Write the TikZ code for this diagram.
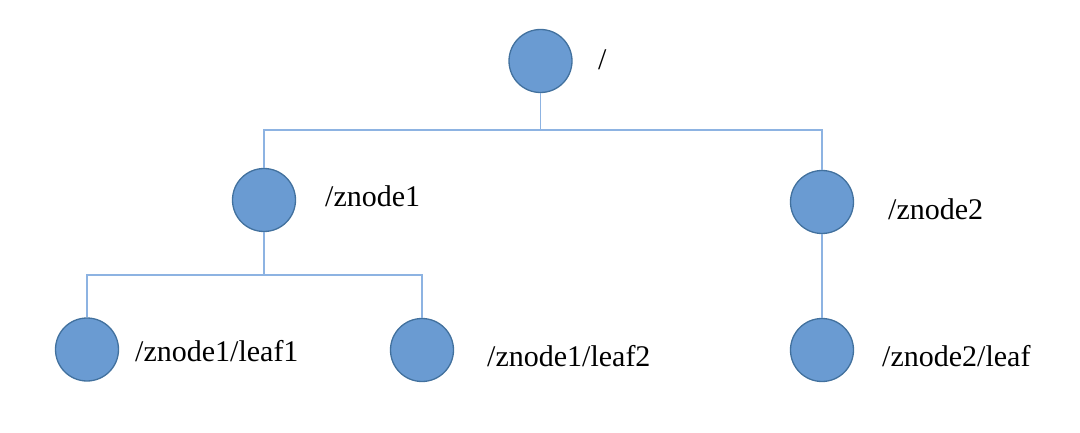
\documentclass[tikz,border=0pt]{standalone}
\usepackage{fontspec}
\setmainfont{Liberation Serif}
\definecolor{nodefill}{RGB}{106,155,210}
\definecolor{nodeborder}{RGB}{66,113,158}
\definecolor{linkcol}{RGB}{141,179,226}
\tikzset{
  znode/.style={circle, draw=nodeborder, fill=nodefill, line width=1.3pt, minimum size=63pt, inner sep=0pt},
  link/.style={draw=linkcol, line width=1.3pt},
  lbl/.style={anchor=base west, inner sep=0pt, font=\fontsize{30}{36}\selectfont}
}
\begin{document}
\begin{tikzpicture}[x=1pt,y=-1pt]
\useasboundingbox (0,0) rectangle (1080,433);
\node[znode] (root) at (540.5,61) {};
\node[znode] (z1) at (264,200) {};
\node[znode] (z2) at (822,202) {};
\node[znode] (l1) at (87,349.5) {};
\node[znode] (l2) at (422,350) {};
\node[znode] (l3) at (822,350) {};
\coordinate (b1) at (540.5,130);
\coordinate (b1l) at (264,130);
\coordinate (b1r) at (822,130);
\coordinate (b2) at (264,275);
\coordinate (b2l) at (87,275);
\coordinate (b2r) at (422,275);
\draw[link] (root) -- (b1);
\draw[link] (z1) -- (b1l) -- (b1r) -- (z2);
\draw[link] (z1) -- (b2);
\draw[link] (l1) -- (b2l) -- (b2r) -- (l2);
\draw[link] (z2) -- (l3);
\node[lbl] (t0) at (598,70) {/};
\node[lbl] (t1) at (325,207) {/znode1};
\node[lbl] (t2) at (888,220) {/znode2};
\node[lbl] (t3) at (135,361) {/znode1/leaf1};
\node[lbl] (t4) at (487,366) {/znode1/leaf2};
\node[lbl] (t5) at (882,366) {/znode2/leaf};
\end{tikzpicture}
\end{document}
